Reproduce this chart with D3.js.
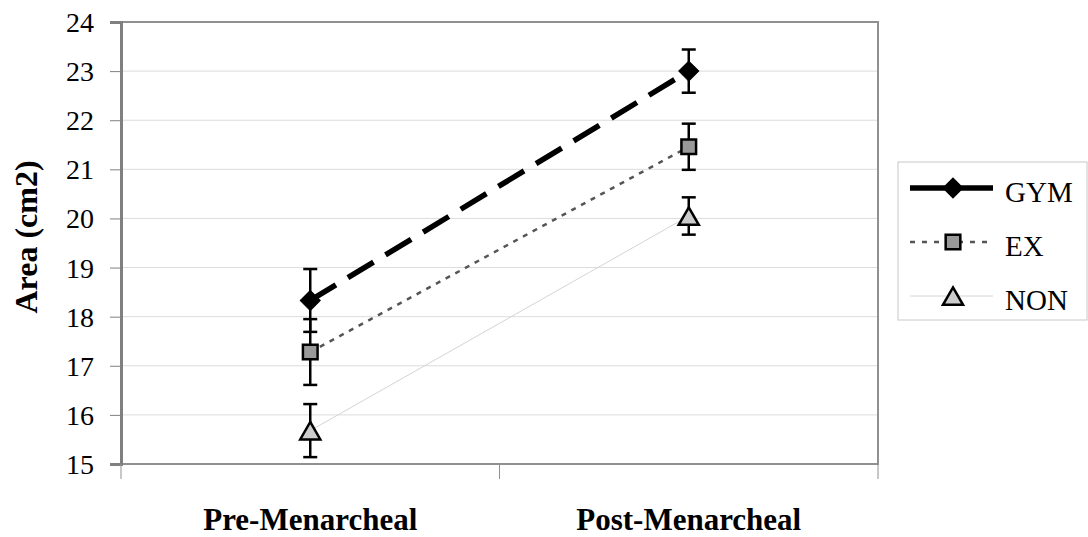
<!DOCTYPE html>
<html>
<head>
<meta charset="utf-8">
<script src="https://cdn.jsdelivr.net/npm/d3@7"></script>
<style>
  body { margin: 0; background: #fff; }
  svg { display: block; }
  svg text { font-family: "Liberation Serif", "Times New Roman", serif; fill: #000; }
</style>
</head>
<body>
<svg id="chart" width="1088" height="537"></svg>
<script>
// data
const categories = ["Pre-Menarcheal", "Post-Menarcheal"];
const groups = ["GYM", "EX", "NON"];
const gymMean = [18.33, 23.0];
const gymErr = [0.64, 0.44];
const exMean = [17.28, 21.46];
const exErr = [0.67, 0.47];
const nonMean = [15.68, 20.05];
const nonErr = [0.54, 0.38];
const yTicks = [15, 16, 17, 18, 19, 20, 21, 22, 23, 24];

const svg = d3.select("#chart");
const plot = {left: 121, right: 878, top: 22, bottom: 464};

let y = d3.scaleLinear().domain([15, 24]).range([plot.bottom, plot.top]);
let x = d3.scaleBand().domain(categories).range([plot.left, plot.right]);
const cx = d => x(d) + x.bandwidth() / 2;

// grid
svg.append("g").selectAll("line")
    .data(yTicks.slice(1))
    .enter().append("line")
    .attr("x1", plot.left).attr("x2", plot.right)
    .attr("y1", d => y(d)).attr("y2", d => y(d))
    .attr("stroke", "#dcdcdc").attr("stroke-width", 1);

// frame
svg.append("rect")
    .attr("x", plot.left).attr("y", plot.top)
    .attr("width", plot.right - plot.left).attr("height", plot.bottom - plot.top)
    .attr("fill", "none").attr("stroke", "#909090").attr("stroke-width", 2);

// y axis
let yAxis = svg.append("g")
    .attr("transform", `translate(${plot.left},0)`)
    .call(d3.axisLeft(y).tickValues(yTicks).tickSize(11).tickPadding(16));
yAxis.attr("font-family", null);
yAxis.select(".domain").attr("stroke", "#808080").attr("stroke-width", 3);
yAxis.selectAll(".tick line").attr("stroke", "#808080");
yAxis.selectAll(".tick text")
    .style("font-size", "28px")
    .attr("dy", "0.34em");

// x axis ticks (category boundaries)
const xBounds = [plot.left, x(categories[1]), plot.right];
svg.append("g").selectAll("line")
    .data(xBounds)
    .enter().append("line")
    .attr("x1", d => d).attr("x2", d => d)
    .attr("y1", plot.bottom).attr("y2", plot.bottom + 15)
    .attr("stroke", "#909090").attr("stroke-width", 1);

svg.append("g").selectAll("text")
    .data(categories)
    .enter().append("text")
    .attr("x", d => cx(d)).attr("y", 530)
    .attr("text-anchor", "middle")
    .style("font-weight", "bold").style("font-size", "31px")
    .text(d => d);

svg.append("text")
    .attr("transform", "translate(37,237) rotate(-90)")
    .attr("text-anchor", "middle")
    .style("font-weight", "bold").style("font-size", "32px")
    .text("Area (cm2)");

const series = [
    {name: groups[0], mean: gymMean, err: gymErr, stroke: "#000", width: 5.5, dash: "30,14", shape: d3.symbolSquare, rot: 45, dy: 0, size: 200, fill: "#000", sw: 1},
    {name: groups[1], mean: exMean, err: exErr, stroke: "#555", width: 2.5, dash: "5,6", shape: d3.symbolSquare, rot: 0, dy: 0, size: 215, fill: "#999", sw: 2.5},
    {name: groups[2], mean: nonMean, err: nonErr, stroke: "#d4d4d4", width: 1, dash: null, shape: d3.symbolTriangle, rot: 0, dy: 3, size: 175, fill: "#ccc", sw: 2.5}
];

const line = d3.line().x((d, i) => cx(categories[i])).y(d => y(d));

series.forEach(s => {
    svg.append("path")
        .datum(s.mean)
        .attr("d", line)
        .attr("fill", "none")
        .attr("stroke", s.stroke)
        .attr("stroke-width", s.width)
        .attr("stroke-dasharray", s.dash);
});

// error bars
series.forEach(s => {
    let g = svg.append("g");
    s.mean.forEach((m, i) => {
        const px = cx(categories[i]);
        const e = s.err[i];
        g.append("line").attr("x1", px).attr("x2", px)
            .attr("y1", y(m - e)).attr("y2", y(m + e))
            .attr("stroke", "#000").attr("stroke-width", 2.5);
        [m - e, m + e].forEach(v => {
            g.append("line").attr("x1", px - 7).attr("x2", px + 7)
                .attr("y1", y(v)).attr("y2", y(v))
                .attr("stroke", "#000").attr("stroke-width", 2.5);
        });
    });
});

// markers
series.forEach(s => {
    svg.append("g").selectAll("path")
        .data(s.mean)
        .enter().append("path")
        .attr("transform", (d, i) => `translate(${cx(categories[i])},${y(d) + s.dy}) rotate(${s.rot})`)
        .attr("d", d3.symbol().type(s.shape).size(s.size))
        .attr("fill", s.fill)
        .attr("stroke", "#000")
        .attr("stroke-width", s.sw);
});

// legend
const legend = svg.append("g").attr("transform", "translate(898,162)");
legend.append("rect")
    .attr("width", 189).attr("height", 158)
    .attr("fill", "#fff").attr("stroke", "#c8c8c8").attr("stroke-width", 1);

const legendDash = ["40,11", "5,7", null];
series.forEach((s, i) => {
    const ly = 26 + i * 54;
    legend.append("line")
        .attr("x1", 12).attr("x2", 95)
        .attr("y1", ly).attr("y2", ly)
        .attr("stroke", s.stroke).attr("stroke-width", s.width)
        .attr("stroke-dasharray", legendDash[i]);
    legend.append("path")
        .attr("transform", `translate(55,${ly + s.dy}) rotate(${s.rot})`)
        .attr("d", d3.symbol().type(s.shape).size(s.size))
        .attr("fill", s.fill)
        .attr("stroke", "#000")
        .attr("stroke-width", s.sw);
    legend.append("text")
        .attr("x", 107).attr("y", ly + 14)
        .style("font-size", "29px")
        .text(s.name);
});
</script>
</body>
</html>
